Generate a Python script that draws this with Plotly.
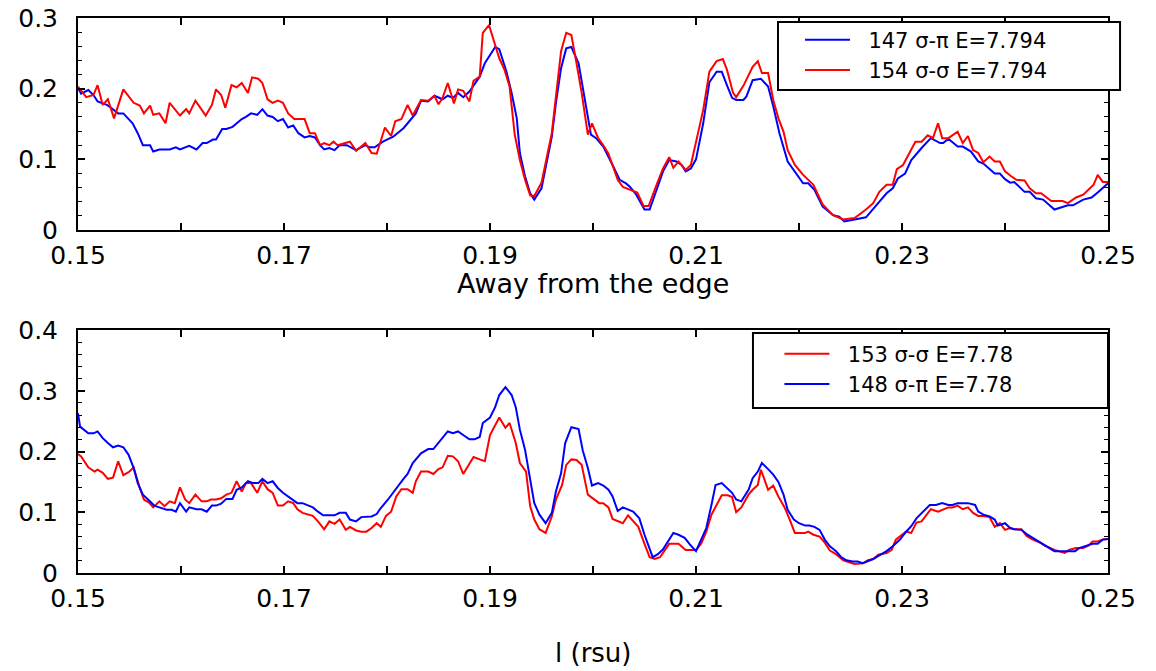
import plotly.graph_objects as go

# ---- data ----
# top panel, "Away from the edge"
top_blue_x = [
    .1500, .1503, .1510, .1515, .1519, .1528, .1531, .1539, .1544, .1553,
    .1558, .1563, .1570, .1573, .1579, .1589, .1595, .1599, .1608, .1615,
    .1621, .1625, .1631, .1634, .1640, .1644, .1650, .1659, .1663, .1668,
    .1674, .1679, .1684, .1689, .1694, .1699, .1704, .1709, .1714, .1720,
    .1725, .1730, .1735, .1739, .1744, .1749, .1754, .1761, .1770, .1779,
    .1783, .1788, .1796, .1806, .1816,
    .1828, .1833, .1840, .1846, .1854, .1859, .1864, .1869, .1874, .1880,
    .1890, .1895, .1900, .1905, .1909, .1916, .1921, .1926, .1929, .1934,
    .1939, .1943, .1950, .1960, .1964, .1969, .1974, .1979, .1986, .1992,
    .1998, .2003, .2010, .2019, .2026, .2032, .2036, .2042, .2050, .2055,
    .2062, .2068, .2074, .2081, .2086, .2090, .2095, .2100, .2107, .2113,
    .2120, .2125, .2130, .2135, .2139, .2146,
    .2149, .2155, .2163, .2170, .2175, .2181, .2189, .2196, .2204, .2209,
    .2215, .2223, .2233, .2239, .2244, .2254, .2265, .2275, .2285, .2291,
    .2296, .2303, .2309, .2319, .2328, .2337, .2340, .2345, .2354, .2359,
    .2367, .2374, .2379, .2390, .2395, .2400, .2405, .2409, .2419, .2424,
    .2430, .2437, .2448, .2461, .2466, .2476, .2484, .2490, .2500,
]
top_blue_y = [
    0.201, 0.193, 0.198, 0.191, 0.182, 0.177, 0.174, 0.165, 0.165, 0.151,
    0.137, 0.120, 0.120, 0.111, 0.114, 0.114, 0.117, 0.114, 0.119, 0.114,
    0.123, 0.123, 0.128, 0.128, 0.143, 0.143, 0.146, 0.157, 0.160, 0.165,
    0.163, 0.171, 0.162, 0.160, 0.154, 0.157, 0.145, 0.148, 0.137, 0.131,
    0.133, 0.131, 0.120, 0.114, 0.116, 0.113, 0.120, 0.120, 0.113, 0.120,
    0.117, 0.117, 0.125, 0.132, 0.144,
    0.165, 0.183, 0.182, 0.190, 0.185, 0.190, 0.187, 0.194, 0.188, 0.196,
    0.217, 0.236, 0.248, 0.259, 0.256, 0.224, 0.194, 0.158, 0.109, 0.076,
    0.052, 0.043, 0.059, 0.132, 0.180, 0.229, 0.257, 0.259, 0.236, 0.184,
    0.135, 0.130, 0.118, 0.092, 0.071, 0.066, 0.061, 0.050, 0.029, 0.029,
    0.057, 0.083, 0.099, 0.097, 0.092, 0.083, 0.087, 0.100, 0.151, 0.209,
    0.224, 0.224, 0.205, 0.187, 0.184, 0.184,
    0.189, 0.212, 0.214, 0.203, 0.175, 0.137, 0.097, 0.083, 0.066, 0.066,
    0.057, 0.033, 0.021, 0.019, 0.012, 0.015, 0.018, 0.035, 0.052, 0.059,
    0.073, 0.080, 0.099, 0.116, 0.130, 0.123, 0.123, 0.129, 0.118, 0.118,
    0.111, 0.097, 0.094, 0.080, 0.080, 0.072, 0.067, 0.068, 0.054, 0.054,
    0.045, 0.043, 0.029, 0.035, 0.035, 0.043, 0.046, 0.053, 0.066,
]
top_red_x = [
    .1500, .1508, .1515, .1519, .1524, .1529, .1535, .1539, .1544, .1554,
    .1560, .1564, .1570, .1573, .1579, .1585, .1589, .1599, .1605, .1608,
    .1614, .1624, .1630, .1634, .1639, .1643, .1649, .1654, .1659, .1665,
    .1669, .1675, .1679, .1684, .1689, .1694, .1699, .1704, .1710, .1720,
    .1725, .1730, .1735, .1739, .1744, .1748, .1752, .1764, .1770, .1779,
    .1785, .1790, .1798, .1804, .1808, .1814,
    .1820, .1825, .1828, .1833, .1840, .1846, .1850, .1854, .1859, .1865,
    .1869, .1874, .1880, .1884, .1890, .1893, .1899, .1905, .1909, .1914,
    .1919, .1924, .1929, .1934, .1939, .1943, .1950, .1960, .1969, .1974,
    .1979, .1984, .1989, .1995, .1999, .2005, .2010, .2015, .2019, .2024,
    .2029, .2036, .2043, .2049, .2054, .2062, .2068, .2074, .2078, .2083,
    .2090, .2095, .2100, .2107, .2113, .2120, .2126, .2130, .2136, .2139,
    .2146,
    .2149, .2155, .2160, .2164, .2170, .2175, .2180, .2185, .2189, .2196,
    .2204, .2214, .2223, .2233, .2243, .2254, .2265, .2272, .2278, .2285,
    .2291, .2295, .2301, .2307, .2313, .2319, .2325, .2330, .2335, .2339,
    .2345, .2354, .2359, .2364, .2369, .2374, .2379, .2385, .2390, .2395,
    .2400, .2406, .2411, .2419, .2424, .2430, .2435, .2445, .2456, .2461,
    .2469, .2476, .2481, .2486, .2490, .2495, .2500,
]
top_red_y = [
    0.203, 0.188, 0.191, 0.205, 0.177, 0.185, 0.158, 0.177, 0.199, 0.180,
    0.176, 0.165, 0.176, 0.163, 0.165, 0.151, 0.180, 0.162, 0.171, 0.165,
    0.183, 0.162, 0.177, 0.199, 0.191, 0.173, 0.205, 0.202, 0.208, 0.194,
    0.216, 0.214, 0.208, 0.185, 0.180, 0.183, 0.180, 0.165, 0.157, 0.157,
    0.137, 0.137, 0.120, 0.123, 0.120, 0.125, 0.120, 0.125, 0.112, 0.123,
    0.109, 0.108, 0.145, 0.133, 0.154, 0.157,
    0.177, 0.162, 0.170, 0.184, 0.183, 0.190, 0.178, 0.187, 0.208, 0.179,
    0.199, 0.197, 0.182, 0.211, 0.217, 0.279, 0.290, 0.263, 0.243, 0.227,
    0.203, 0.135, 0.099, 0.071, 0.049, 0.048, 0.067, 0.137, 0.253, 0.279,
    0.276, 0.236, 0.194, 0.135, 0.151, 0.130, 0.120, 0.108, 0.092, 0.071,
    0.061, 0.057, 0.053, 0.034, 0.034, 0.065, 0.087, 0.103, 0.088, 0.097,
    0.085, 0.092, 0.123, 0.170, 0.224, 0.239, 0.242, 0.227, 0.194, 0.188,
    0.204,
    0.213, 0.231, 0.239, 0.222, 0.222, 0.184, 0.158, 0.139, 0.113, 0.092,
    0.078, 0.064, 0.036, 0.021, 0.015, 0.017, 0.029, 0.038, 0.054, 0.064,
    0.064, 0.086, 0.092, 0.108, 0.125, 0.125, 0.134, 0.130, 0.151, 0.130,
    0.130, 0.139, 0.123, 0.133, 0.113, 0.109, 0.096, 0.104, 0.097, 0.097,
    0.083, 0.076, 0.071, 0.070, 0.059, 0.052, 0.052, 0.041, 0.041, 0.038,
    0.046, 0.050, 0.057, 0.064, 0.078, 0.068, 0.068,
]

# bottom panel
bot_blue_x = [
    .1500, .1502, .1510, .1515, .1519, .1524, .1529, .1534, .1539, .1544,
    .1549, .1554, .1558, .1563, .1568, .1574, .1579, .1586, .1591, .1595,
    .1599, .1605, .1608, .1615, .1620, .1625, .1630, .1634, .1639, .1644,
    .1650, .1654, .1659, .1665, .1670, .1675, .1679, .1684, .1689, .1694,
    .1699, .1707, .1713, .1718, .1723, .1728, .1733, .1738, .1744, .1749,
    .1754, .1760, .1764, .1770, .1775, .1780, .1785, .1790, .1794, .1801,
    .1809, .1816, .1820, .1825,
    .1833, .1840, .1845, .1851, .1859, .1864, .1869, .1875, .1880, .1885,
    .1890, .1893, .1900, .1905, .1909, .1915, .1921, .1925, .1929, .1934,
    .1939, .1943, .1948, .1954, .1960, .1964, .1969, .1973, .1979, .1986,
    .1990, .1995, .1999, .2005, .2010, .2015, .2019, .2024, .2029, .2034,
    .2039, .2045, .2050, .2058, .2063, .2068, .2078, .2083, .2089, .2094,
    .2100, .2105, .2110, .2115, .2119, .2125, .2130, .2135, .2139, .2144,
    .2151, .2155, .2160, .2164, .2170, .2175, .2180, .2185, .2189, .2195,
    .2200, .2206, .2210, .2215, .2220, .2225, .2230, .2236, .2241, .2246,
    .2252, .2257, .2262, .2267, .2272, .2278, .2285, .2291, .2298, .2304,
    .2309, .2314, .2320, .2327, .2333, .2339, .2345, .2349, .2354, .2364,
    .2371, .2374, .2379, .2385, .2390, .2393, .2400, .2405, .2409, .2416,
    .2421, .2427, .2434, .2440, .2448, .2456, .2461, .2468, .2472, .2479,
    .2485, .2490, .2495, .2500,
]
bot_blue_y = [
    0.263, 0.241, 0.230, 0.230, 0.233, 0.222, 0.214, 0.207, 0.210, 0.207,
    0.195, 0.173, 0.148, 0.129, 0.121, 0.111, 0.108, 0.104, 0.104, 0.101,
    0.115, 0.101, 0.108, 0.105, 0.105, 0.101, 0.111, 0.111, 0.114, 0.122,
    0.122, 0.137, 0.141, 0.151, 0.148, 0.148, 0.155, 0.148, 0.151, 0.140,
    0.132, 0.123, 0.115, 0.115, 0.112, 0.108, 0.101, 0.095, 0.095, 0.095,
    0.099, 0.099, 0.088, 0.085, 0.092, 0.092, 0.093, 0.097, 0.107, 0.121,
    0.140, 0.155, 0.163, 0.181,
    0.197, 0.204, 0.204, 0.216, 0.233, 0.230, 0.233, 0.226, 0.220, 0.220,
    0.224, 0.247, 0.256, 0.273, 0.293, 0.306, 0.293, 0.273, 0.236, 0.203,
    0.153, 0.115, 0.096, 0.082, 0.099, 0.134, 0.164, 0.214, 0.240, 0.237,
    0.202, 0.173, 0.144, 0.148, 0.144, 0.137, 0.126, 0.102, 0.108, 0.104,
    0.101, 0.090, 0.063, 0.026, 0.031, 0.039, 0.066, 0.063, 0.058, 0.047,
    0.036, 0.055, 0.074, 0.112, 0.145, 0.148, 0.140, 0.132, 0.121, 0.118,
    0.137, 0.156, 0.167, 0.181, 0.171, 0.162, 0.150, 0.129, 0.104, 0.088,
    0.082, 0.078, 0.078, 0.076, 0.071, 0.055, 0.044, 0.036, 0.026, 0.021,
    0.019, 0.019, 0.016, 0.019, 0.023, 0.029, 0.036, 0.044, 0.055, 0.068,
    0.077, 0.090, 0.101, 0.112, 0.112, 0.115, 0.112, 0.112, 0.115, 0.115,
    0.112, 0.101, 0.096, 0.093, 0.088, 0.078, 0.082, 0.074, 0.072, 0.071,
    0.064, 0.058, 0.050, 0.045, 0.036, 0.036, 0.036, 0.036, 0.041, 0.045,
    0.048, 0.048, 0.055, 0.056,
]
bot_red_x = [
    .1500, .1503, .1510, .1516, .1519, .1524, .1529, .1534, .1539, .1544,
    .1550, .1554, .1560, .1564, .1569, .1573, .1579, .1584, .1589, .1594,
    .1599, .1604, .1608, .1614, .1620, .1625, .1629, .1634, .1639, .1644,
    .1649, .1654, .1659, .1663, .1668, .1674, .1679, .1684, .1689, .1694,
    .1699, .1704, .1709, .1713, .1718, .1723, .1728, .1733, .1739, .1744,
    .1749, .1754, .1760, .1764, .1770, .1775, .1780, .1785, .1790, .1794,
    .1799, .1804, .1809, .1814,
    .1820, .1825, .1828, .1833, .1840, .1845, .1850, .1854, .1859, .1864,
    .1869, .1874, .1880, .1884, .1890, .1895, .1900, .1905, .1909, .1915,
    .1919, .1925, .1929, .1935, .1939, .1943, .1948, .1954, .1960, .1964,
    .1970, .1974, .1979, .1984, .1989, .1995, .2000, .2006, .2010, .2015,
    .2019, .2024, .2029, .2034, .2039, .2044, .2050, .2055, .2060, .2065,
    .2074, .2083, .2090, .2095, .2100, .2105, .2110, .2115, .2120, .2125,
    .2131, .2135, .2139, .2144,
    .2151, .2155, .2160, .2163, .2170, .2175, .2180, .2186, .2191, .2196,
    .2201, .2206, .2209, .2214, .2220, .2225, .2230, .2236, .2243, .2248,
    .2254, .2262, .2267, .2272, .2277, .2285, .2290, .2294, .2304, .2309,
    .2314, .2319, .2324, .2328, .2335, .2340, .2345, .2349, .2354, .2359,
    .2364, .2369, .2374, .2379, .2385, .2390, .2395, .2400, .2405, .2409,
    .2416, .2421, .2427, .2434, .2440, .2448, .2458, .2462, .2469, .2476,
    .2481, .2485, .2490, .2495, .2500,
]
bot_red_y = [
    0.196, 0.192, 0.174, 0.167, 0.170, 0.165, 0.155, 0.157, 0.184, 0.161,
    0.167, 0.174, 0.140, 0.121, 0.116, 0.108, 0.118, 0.110, 0.118, 0.115,
    0.141, 0.121, 0.115, 0.129, 0.118, 0.118, 0.121, 0.121, 0.123, 0.129,
    0.132, 0.151, 0.134, 0.148, 0.148, 0.132, 0.151, 0.138, 0.132, 0.111,
    0.111, 0.118, 0.115, 0.105, 0.099, 0.096, 0.094, 0.085, 0.072, 0.085,
    0.081, 0.088, 0.071, 0.076, 0.070, 0.068, 0.068, 0.074, 0.082, 0.076,
    0.094, 0.101, 0.126, 0.138,
    0.138, 0.132, 0.151, 0.167, 0.167, 0.163, 0.171, 0.174, 0.193, 0.192,
    0.184, 0.163, 0.180, 0.191, 0.187, 0.184, 0.227, 0.242, 0.256, 0.239,
    0.247, 0.214, 0.181, 0.167, 0.110, 0.088, 0.072, 0.066, 0.093, 0.121,
    0.145, 0.178, 0.187, 0.186, 0.178, 0.129, 0.123, 0.115, 0.115, 0.108,
    0.089, 0.085, 0.082, 0.095, 0.085, 0.076, 0.048, 0.026, 0.023, 0.026,
    0.048, 0.048, 0.038, 0.038, 0.038, 0.048, 0.068, 0.096, 0.112, 0.128,
    0.128, 0.125, 0.100, 0.108,
    0.129, 0.137, 0.145, 0.170, 0.137, 0.144, 0.126, 0.108, 0.088, 0.066,
    0.066, 0.066, 0.068, 0.063, 0.060, 0.050, 0.037, 0.031, 0.021, 0.018,
    0.015, 0.016, 0.021, 0.023, 0.030, 0.033, 0.038, 0.055, 0.068, 0.066,
    0.083, 0.085, 0.096, 0.105, 0.101, 0.105, 0.108, 0.108, 0.111, 0.105,
    0.108, 0.099, 0.094, 0.094, 0.092, 0.076, 0.082, 0.071, 0.074, 0.072,
    0.072, 0.061, 0.055, 0.050, 0.044, 0.038, 0.033, 0.038, 0.041, 0.041,
    0.045, 0.052, 0.052, 0.055, 0.056,
]

x_ticks = [0.15, 0.17, 0.19, 0.21, 0.23, 0.25]
x_labels = ["0.15", "0.17", "0.19", "0.21", "0.23", "0.25"]
top_y_ticks = [0, 0.1, 0.2, 0.3]
bot_y_ticks = [0, 0.1, 0.2, 0.3, 0.4]

for a, b in [(top_blue_x, top_blue_y), (top_red_x, top_red_y),
             (bot_blue_x, bot_blue_y), (bot_red_x, bot_red_y)]:
    assert len(a) == len(b), (len(a), len(b))

FONT = "DejaVu Sans"
BLUE = "#0000ff"
RED = "#ff0000"
NB = "\u00a0\u00a0"  # a little gap between legend line and text

fig = go.Figure()
fig.add_trace(go.Scatter(x=top_blue_x, y=top_blue_y, mode="lines", name=NB + "147 σ-π E=7.794",
                         line=dict(color=BLUE, width=2), xaxis="x", yaxis="y", legend="legend"))
fig.add_trace(go.Scatter(x=top_red_x, y=top_red_y, mode="lines", name=NB + "154 σ-σ E=7.794",
                         line=dict(color=RED, width=2), xaxis="x", yaxis="y", legend="legend"))
fig.add_trace(go.Scatter(x=bot_red_x, y=bot_red_y, mode="lines", name=NB + "153 σ-σ E=7.78",
                         line=dict(color=RED, width=2), xaxis="x2", yaxis="y2", legend="legend2"))
fig.add_trace(go.Scatter(x=bot_blue_x, y=bot_blue_y, mode="lines", name=NB + "148 σ-π E=7.78",
                         line=dict(color=BLUE, width=2), xaxis="x2", yaxis="y2", legend="legend2"))

axis_style = dict(
    showline=True, linecolor="black", linewidth=2, mirror="allticks",
    ticks="inside", ticklen=7, tickwidth=1.5, tickcolor="black",
    showgrid=False, zeroline=False, automargin=False,
    tickfont=dict(family=FONT, size=25, color="black"),
)
x_style = dict(axis_style, range=[0.15, 0.25], tickvals=x_ticks, ticktext=x_labels,
               ticklabelstandoff=2,
               minor=dict(tickvals=[0.16, 0.18, 0.20, 0.22, 0.24], ticks="inside",
                          ticklen=7, tickcolor="black", tickwidth=1.5))
y_minor = dict(dtick=0.02, tick0=0, ticks="inside", ticklen=4, tickcolor="black", tickwidth=1.2)

legend_style = dict(
    xanchor="left", yanchor="top", bgcolor="rgba(0,0,0,0)", borderwidth=0,
    font=dict(family=FONT, size=21, color="black"), itemwidth=45, tracegroupgap=0,
)

# legend frames (white boxes behind the legend entries)
box = dict(type="rect", xref="paper", yref="paper", fillcolor="white",
           line=dict(color="black", width=2), layer="above")

fig.update_layout(
    width=1156, height=671,
    margin=dict(l=78, r=48, t=18, b=98, autoexpand=False),
    paper_bgcolor="white", plot_bgcolor="white",
    showlegend=True,
    xaxis=dict(x_style, domain=[0, 1], anchor="y"),
    yaxis=dict(axis_style, domain=[0.618, 1], anchor="x", range=[0, 0.3],
               tickvals=top_y_ticks, ticktext=["0", "0.1", "0.2", "0.3"],
               ticklabelstandoff=13, minor=y_minor),
    xaxis2=dict(x_style, domain=[0, 1], anchor="y2"),
    yaxis2=dict(axis_style, domain=[0, 0.4378], anchor="x2", range=[0, 0.4],
                tickvals=bot_y_ticks, ticktext=["0", "0.1", "0.2", "0.3", "0.4"],
                ticklabelstandoff=13, minor=y_minor),
    legend=dict(legend_style, x=0.701, y=0.997),
    legend2=dict(legend_style, x=0.681, y=0.4315),
    shapes=[
        dict(box, x0=0.6796, x1=1.0117, y0=0.8703, y1=0.9928),
        dict(box, x0=0.6553, x1=1.0, y0=0.2973, y1=0.4324),
    ],
    annotations=[
        dict(text="Away from the edge", x=0.5, y=0.522, xref="paper", yref="paper",
             xanchor="center", yanchor="middle", showarrow=False,
             font=dict(family=FONT, size=27, color="black")),
        dict(text="l (rsu)", x=0.5, y=-0.144, xref="paper", yref="paper",
             xanchor="center", yanchor="middle", showarrow=False,
             font=dict(family=FONT, size=26, color="black")),
    ],
)

# the page body has a default 8px margin; drop it so the figure sits at the top-left corner
fig.write_html("out.html", config={"displayModeBar": False},
               post_script="document.body.style.margin='0';")
